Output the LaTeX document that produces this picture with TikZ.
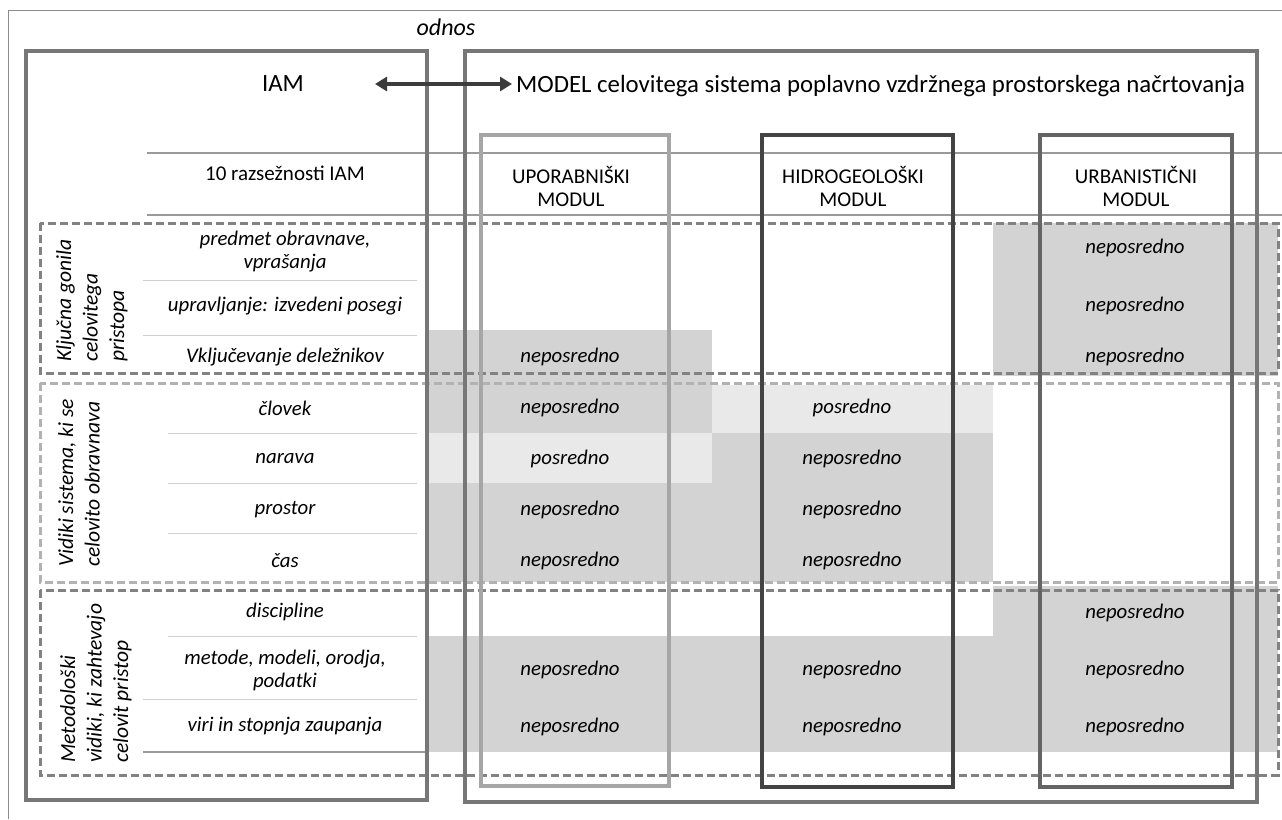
\documentclass[tikz,border=0pt]{standalone}
\usepackage{fontspec}
\setmainfont{Carlito}
\usetikzlibrary{arrows.meta}
\definecolor{gmid}{HTML}{D3D3D3}
\definecolor{glight}{HTML}{E9E9E9}
\definecolor{framec}{HTML}{8C8C8C}
\definecolor{boxc}{HTML}{777777}
\definecolor{upc}{HTML}{A6A6A6}
\definecolor{hic}{HTML}{434343}
\definecolor{urc}{HTML}{646464}
\definecolor{dashdark}{HTML}{828282}
\definecolor{dashlight}{HTML}{B2B2B2}
\definecolor{rulec}{HTML}{9A9A9A}
\definecolor{rulelight}{HTML}{D0D0D0}
\definecolor{arrowc}{HTML}{3C3C3C}
\tikzset{
  bigbox/.style={draw=boxc, line width=4pt},
  modbox/.style={line width=3.5pt},
  grpbox/.style={line width=3pt, dash pattern=on 8pt off 4pt},
  titletxt/.style={font=\fontsize{24.8}{28}\selectfont, inner sep=0pt},
  headtxt/.style={font=\fontsize{21}{23}\selectfont, align=center, inner sep=0pt},
  rowtxt/.style={font=\fontsize{20.8}{23}\selectfont\itshape, align=center, inner sep=0pt},
  celltxt/.style={font=\fontsize{20.8}{23}\selectfont\itshape, inner sep=0pt},
  grptxt/.style={font=\fontsize{21.5}{26.5}\selectfont\itshape, align=left, inner sep=0pt, rotate=90, anchor=west},
  rule/.style={draw=rulelight, line width=1pt},
  hrule/.style={draw=rulec, line width=1.2pt},
}
\begin{document}
\begin{tikzpicture}[x=1pt,y=-1pt]
\useasboundingbox (0,0) rectangle (1282,819);
\fill[white] (0,0) rectangle (1282,819);

% grey fills
\fill[gmid] (993,223) rectangle (1278,376);
\fill[gmid] (425,330) rectangle (712,433);
\fill[glight] (425,433) rectangle (712,483);
\fill[glight] (712,385) rectangle (993,433);
\fill[gmid] (712,433) rectangle (993,483);
\fill[gmid] (425,483) rectangle (993,582);
\fill[gmid] (993,586) rectangle (1278,636);
\fill[gmid] (425,636) rectangle (1278,752);

% outer thin frame
\draw[draw=framec, line width=1pt] (8.5,819) -- (8.5,10.5) -- (1282,10.5);

% rules
\draw[hrule] (147,153) -- (1282,153);
\draw[hrule] (147,215) -- (1282,215);
\draw[rule] (143,280) -- (417,280);
\draw[rule] (143,335) -- (417,335);
\draw[rule] (168,433) -- (417,433);
\draw[rule] (168,483) -- (417,483);
\draw[rule] (168,533) -- (417,533);
\draw[rule] (168,636) -- (417,636);
\draw[rule] (143,699) -- (417,699);
\draw[hrule] (143,752) -- (427,752);

% dashed group boxes
\draw[grpbox, draw=dashdark] (40,223) rectangle (1278,373);
\draw[grpbox, draw=dashlight] (40,383) rectangle (1278,582);
\draw[grpbox, draw=dashdark] (40,590) rectangle (1278,775);

% main boxes
\draw[bigbox] (26,51) rectangle (427,800);
\draw[bigbox] (465,51) rectangle (1257,802);
\draw[modbox, draw=upc] (481,135) rectangle (669,786);
\draw[modbox, draw=hic] (762,135) rectangle (953,787);
\draw[modbox, draw=urc] (1040,135) rectangle (1232,787);

% titles
\node[titletxt] (iam) at (283,84) {IAM};
\node[titletxt, anchor=west] (model) at (516,86) {MODEL celovitega sistema poplavno vzdržnega prostorskega načrtovanja};
\node[titletxt, font=\fontsize{24}{28}\selectfont\itshape] (odnos) at (446,27) {odnos};
\coordinate (arrL) at (375,84);
\coordinate (arrR) at (512,84);
\draw[draw=arrowc, line width=3.5pt, {Triangle[length=12pt,width=14pt]}-{Triangle[length=12pt,width=14pt]}] (arrL) -- (arrR);

% header row
\node[headtxt] (h0) at (285,173) {10 razsežnosti IAM};
\node[headtxt] (h1) at (571,186) {UPORABNIŠKI\\MODUL};
\node[headtxt] (h2) at (853,186) {HIDROGEOLOŠKI\\MODUL};
\node[headtxt] (h3) at (1136,186) {URBANISTIČNI\\MODUL};

% group labels
\node[grptxt] (g1) at (92,362) {Ključna gonila\\celovitega\\pristopa};
\node[grptxt] (g2) at (79,567) {Vidiki sistema, ki se\\celovito obravnava};
\node[grptxt] (g3) at (96,763) {Metodološki\\vidiki, ki zahtevajo\\celovit pristop};

% row labels
\node[rowtxt] (r1) at (285,252) {predmet obravnave,\\vprašanja};
\node[rowtxt] (r2) at (285,306) {upravljanje: izvedeni posegi};
\node[rowtxt] (r3) at (285,357) {Vključevanje deležnikov};
\node[rowtxt] (r4) at (285,408) {človek};
\node[rowtxt] (r5) at (285,459) {narava};
\node[rowtxt] (r6) at (285,510) {prostor};
\node[rowtxt] (r7) at (285,561) {čas};
\node[rowtxt] (r8) at (285,612) {discipline};
\node[rowtxt] (r9) at (285,670) {metode, modeli, orodja,\\podatki};
\node[rowtxt] (r10) at (285,726) {viri in stopnja zaupanja};

% cells: uporabniski
\node[celltxt] (u3) at (570,357) {neposredno};
\node[celltxt] (u4) at (570,408) {neposredno};
\node[celltxt] (u5) at (570,459) {posredno};
\node[celltxt] (u6) at (570,510) {neposredno};
\node[celltxt] (u7) at (570,561) {neposredno};
\node[celltxt] (u9) at (570,670) {neposredno};
\node[celltxt] (u10) at (570,727) {neposredno};
% cells: hidrogeoloski
\node[celltxt] (d4) at (852,408) {posredno};
\node[celltxt] (d5) at (852,459) {neposredno};
\node[celltxt] (d6) at (852,510) {neposredno};
\node[celltxt] (d7) at (852,561) {neposredno};
\node[celltxt] (d9) at (852,670) {neposredno};
\node[celltxt] (d10) at (852,727) {neposredno};
% cells: urbanisticni
\node[celltxt] (b1) at (1135,248) {neposredno};
\node[celltxt] (b2) at (1135,306) {neposredno};
\node[celltxt] (b3) at (1135,357) {neposredno};
\node[celltxt] (b8) at (1135,613) {neposredno};
\node[celltxt] (b9) at (1135,670) {neposredno};
\node[celltxt] (b10) at (1135,727) {neposredno};
\end{tikzpicture}
\end{document}
